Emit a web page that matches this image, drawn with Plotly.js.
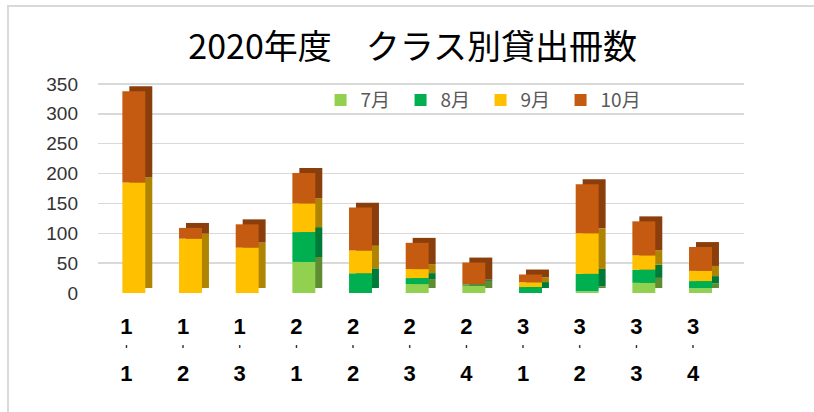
<!DOCTYPE html>
<html><head><meta charset="utf-8">
<script src="https://cdn.plot.ly/plotly-3.0.1.min.js"></script>
<style>
html,body{margin:0;padding:0;background:#fff;overflow:hidden}
#chart{width:814px;height:412px}
#frame{position:absolute;left:7px;top:5px;width:900px;height:500px;border-left:2px solid #d9d9d9;border-top:2px solid #d9d9d9;pointer-events:none}
</style></head><body>
<div id="chart"></div><div id="frame"></div>
<script>
// ---- data ----
const classes = ['1-1','1-2','1-3','2-1','2-2','2-3','2-4','3-1','3-2','3-3','3-4'];
const months = ['7月','8月','9月','10月'];
const jul = [0,0,0,52,0,15,12,0,3,17,8];
const aug = [0,0,0,50,33,10,2,10,29,22,12];
const sep = [185,91,76,48,38,15,0,8,68,24,17];
const oct = [153,18,39,51,72,44,37,13,82,57,40];
const yTicks = [0,50,100,150,200,250,300,350];

// ---- style ----
const frontColors = ['#92D050','#00B050','#FFC000','#C55A11'];
const sideColors  = ['#5E8C30','#007A38','#AE8400','#8A3E0B'];
const series = [jul, aug, sep, oct];
const barW = 0.405, frontOff = -0.07, depthX = 0.123, depthY = 8.3;

const bases = [];
let run = classes.map(() => 0);
series.forEach(s => { bases.push(run.slice()); run = run.map((v, i) => v + s[i]); });

const traces = [];
// side/top faces (drawn behind)
series.forEach((s, k) => {
  traces.push({
    type: 'bar', x: classes, y: s, base: bases[k].map(b => b + depthY),
    width: barW, offset: frontOff + depthX,
    marker: {color: sideColors[k], line: {width: 0}},
    showlegend: false, hoverinfo: 'skip'
  });
});
// front faces
series.forEach((s, k) => {
  traces.push({
    type: 'bar', name: months[k], x: classes, y: s, base: bases[k],
    width: barW, offset: frontOff,
    marker: {color: frontColors[k], line: {width: 0}}
  });
});

// vertical "1-1" style labels: digit / vertical dash / digit
const tickText = classes.map(c => {
  const [a, b] = c.split('-');
  return '<b><span style="font-size:22px">' + a + '</span></b><br>' +
         '<b><span style="font-size:16px">ˈ</span></b><br>' +
         '<b><span style="font-size:22px">' + b + '</span></b>';
});

const layout = {
  width: 814, height: 412,
  paper_bgcolor: '#fff', plot_bgcolor: '#fff',
  margin: {l: 98, r: 70, t: 77.5, b: 118.5},
  barmode: 'overlay',
  title: {
    text: '2020年度　クラス別貸出冊数',
    font: {family: 'Noto Sans CJK JP', size: 34, color: '#000'},
    x: 0.507, xref: 'container', xanchor: 'center',
    y: 0.886, yref: 'container', yanchor: 'middle'
  },
  xaxis: {
    type: 'category', range: [-0.5, 10.9],
    tickvals: classes, ticktext: tickText,
    showgrid: false, zeroline: false, showline: false, ticks: '',
    tickfont: {family: 'Liberation Sans', size: 18, color: '#000'},
    ticklabelstandoff: 22
  },
  yaxis: {
    range: [0, 360], tickvals: yTicks,
    showgrid: true, gridcolor: '#d9d9d9', gridwidth: 1.5,
    zeroline: false, showline: false, ticks: '',
    tickfont: {family: 'Liberation Sans', size: 19, color: '#333'},
    ticklabelstandoff: 19
  },
  legend: {
    orientation: 'h', x: 0.3445, xanchor: 'left', y: 0.985, yanchor: 'top',
    font: {family: 'Noto Sans CJK JP', size: 19, color: '#595959'},
    itemwidth: 30, traceorder: 'normal', bgcolor: 'rgba(0,0,0,0)',
    entrywidth: 35, entrywidthmode: 'pixels'
  },
  showlegend: true
};

Plotly.newPlot('chart', traces, layout, {displayModeBar: false, staticPlot: true});
</script>
</body></html>
